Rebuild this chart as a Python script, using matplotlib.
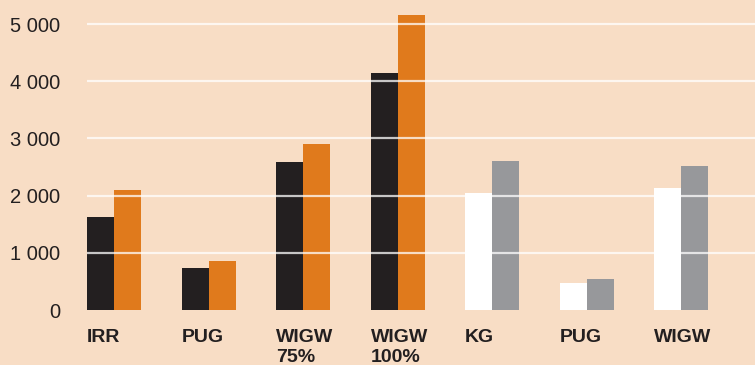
import matplotlib.pyplot as plt
import numpy as np

plt.rcParams['font.family'] = ['Liberation Sans Narrow', 'Liberation Sans', 'DejaVu Sans']

groups = ['IRR', 'PUG', 'WIGW\n75%', 'WIGW\n100%', 'KG', 'PUG', 'WIGW']
first = [1630, 740, 2590, 4140, 2050, 470, 2130]
second = [2100, 860, 2900, 5160, 2600, 540, 2520]
first_colors = ['#231f20'] * 4 + ['#ffffff'] * 3
second_colors = ['#e07a1c'] * 4 + ['#97989b'] * 3
yticks = [0, 1000, 2000, 3000, 4000, 5000]
ytick_labels = ['0', '1 000', '2 000', '3 000', '4 000', '5 000']

bg = '#f8ddc5'
w = 0.286

fig = plt.figure(figsize=(7.55, 3.65), dpi=100, facecolor=bg)
ax = fig.add_axes([87 / 755, 55 / 365, 668 / 755, 310 / 365], facecolor=bg)

x = np.arange(len(groups))
ax.bar(x - w / 2, first, width=w, color=first_colors, zorder=1)
ax.bar(x + w / 2, second, width=w, color=second_colors, zorder=1)

for t in yticks[1:]:
    ax.axhline(t, color='white', lw=1.6, alpha=0.75, zorder=3)

ax.set_xlim(-w, 6.78)
ax.set_ylim(0, 5420)

ax.set_yticks(yticks)
ax.set_yticklabels(ytick_labels, fontsize=14.5, color='#231f20')
ax.set_xticks(x - w)
ax.set_xticklabels(groups, fontsize=14, fontweight='bold', ha='left',
                   color='#231f20', linespacing=1.2)
ax.tick_params(axis='y', length=0, pad=19)
ax.tick_params(axis='x', length=0, pad=14)

for s in ax.spines.values():
    s.set_visible(False)

fig.savefig('out.png', dpi=100, facecolor=bg)
